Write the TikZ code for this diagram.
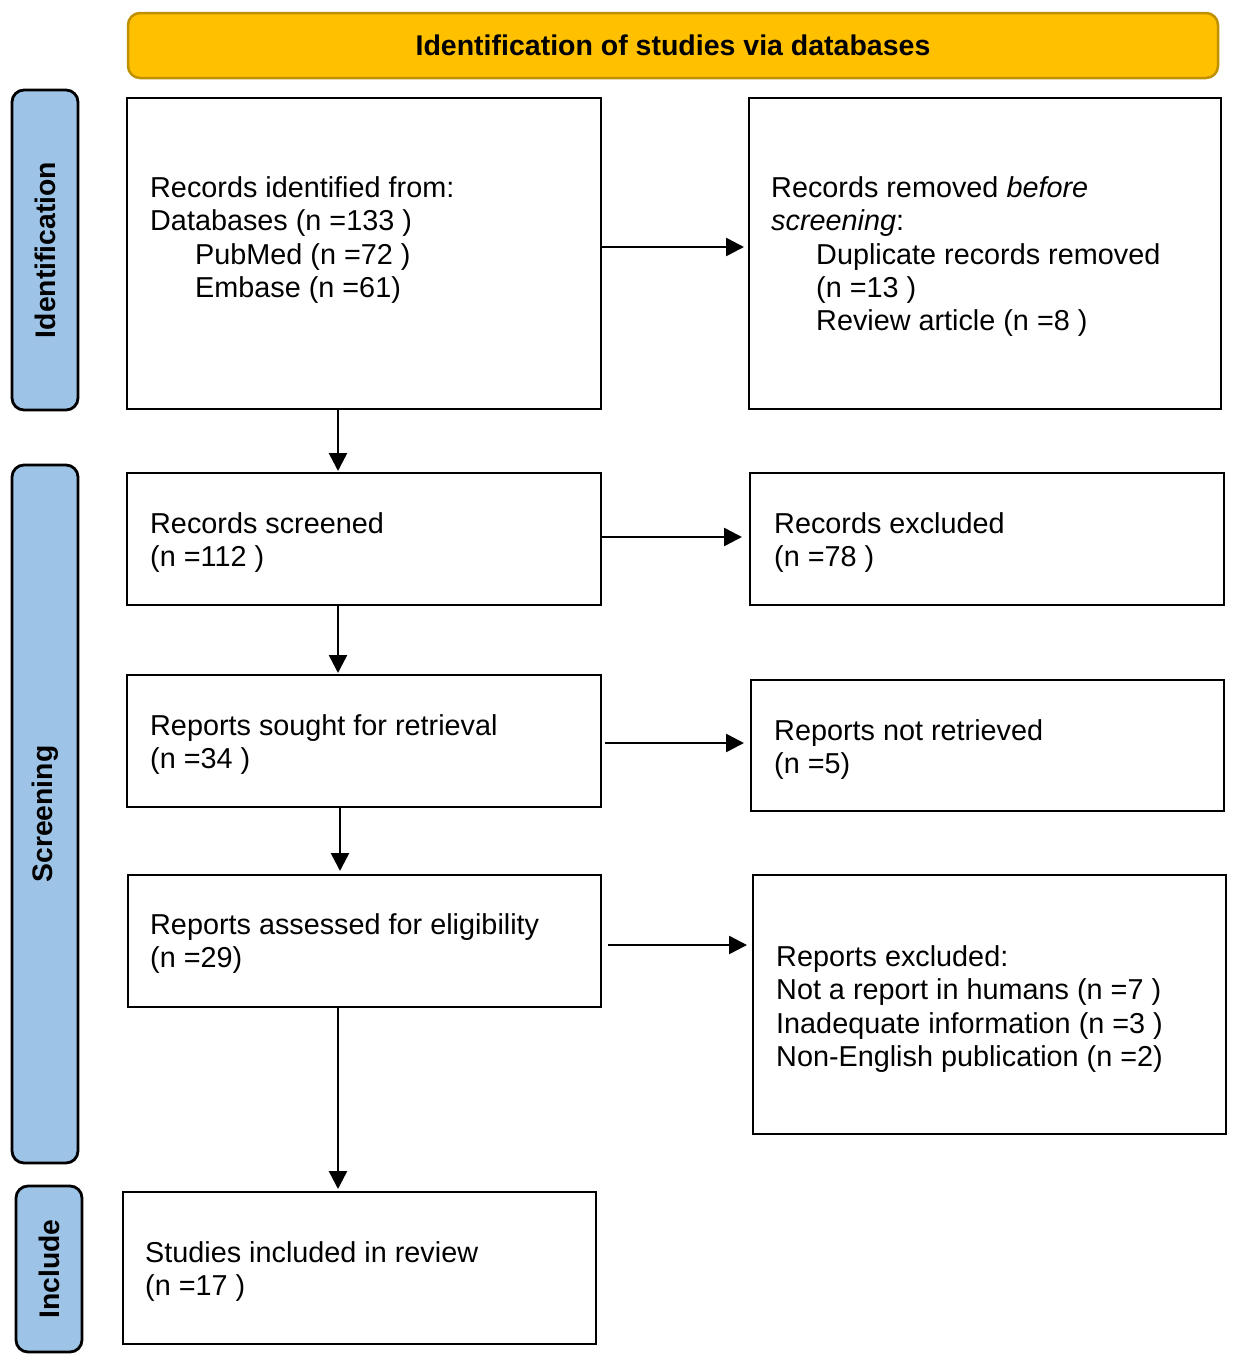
\documentclass[tikz,border=0pt]{standalone}
\usepackage{fontspec}
\setmainfont{Liberation Sans}
\usetikzlibrary{arrows.meta}
\definecolor{hdrfill}{HTML}{FFC000}
\definecolor{hdrdraw}{HTML}{BF9000}
\definecolor{sidefill}{HTML}{9DC3E6}
\tikzset{
  box/.style={draw=black, line width=2pt, fill=white, inner sep=0pt},
  txt/.style={inner sep=0pt, anchor=north west, align=left, font=\fontsize{28.8}{33.3}\selectfont},
  hdr/.style={draw=hdrdraw, fill=hdrfill, line width=2.5pt, rounded corners=12pt, font=\bfseries\fontsize{28.5}{33}\selectfont},
  side/.style={draw=black, fill=sidefill, line width=2.8pt, rounded corners=12pt},
  sidetxt/.style={rotate=90, font=\bfseries\fontsize{28.3}{33}\selectfont, inner sep=0pt},
  arr/.style={line width=2.5pt, -{Triangle[length=18pt,width=18pt]}}
}
\begin{document}
\begin{tikzpicture}[x=1pt,y=-1pt]
\useasboundingbox (0,0) rectangle (1240,1366);
% header
\node[hdr, minimum width=1090pt, minimum height=65pt] (hd) at (673,45.5) {Identification of studies via databases};
% side labels
\node[side, minimum width=66pt, minimum height=320pt] (s1) at (45,250) {};
\node[sidetxt] (s1t) at (s1.center) {Identification};
\node[side, minimum width=66pt, minimum height=698pt] (s2) at (45,814) {};
\node[sidetxt] (s2t) at (s2.center) {Screening};
\node[side, minimum width=66pt, minimum height=166pt] (s3) at (49,1269) {};
\node[sidetxt] (s3t) at (s3.center) {Include};
% boxes
\node[box, minimum width=474pt, minimum height=311pt] (b1) at (364,253.5) {};
\node[box, minimum width=472pt, minimum height=311pt] (b2) at (985,253.5) {};
\node[box, minimum width=474pt, minimum height=132pt] (b3) at (364,539) {};
\node[box, minimum width=474pt, minimum height=132pt] (b4) at (987,539) {};
\node[box, minimum width=474pt, minimum height=132pt] (b5) at (364,741) {};
\node[box, minimum width=473pt, minimum height=131pt] (b6) at (987.5,745.5) {};
\node[box, minimum width=473pt, minimum height=132pt] (b7) at (364.5,941) {};
\node[box, minimum width=473pt, minimum height=259pt] (b8) at (989.5,1004.5) {};
\node[box, minimum width=473pt, minimum height=152pt] (b9) at (359.5,1268) {};
% texts
\node[txt] (t1) at (150,176.5) {Records identified from:\\Databases (n =133 )\\\hspace*{45pt}PubMed (n =72 )\\\hspace*{45pt}Embase (n =61)};
\node[txt] (t2) at (771,176.5) {Records removed \textit{before}\\\textit{screening}:\\\hspace*{45pt}Duplicate records removed\\\hspace*{45pt}(n =13 )\\\hspace*{45pt}Review article (n =8 )};
\node[txt] (t3) at (150,512.5) {Records screened\\(n =112 )};
\node[txt] (t4) at (774,512.5) {Records excluded\\(n =78 )};
\node[txt] (t5) at (150,714.5) {Reports sought for retrieval\\(n =34 )};
\node[txt] (t6) at (774,719.5) {Reports not retrieved\\(n =5)};
\node[txt] (t7) at (150,913.5) {Reports assessed for eligibility\\(n =29)};
\node[txt] (t8) at (776,945.5) {Reports excluded:\\Not a report in humans (n =7 )\\Inadequate information (n =3 )\\Non-English publication (n =2)};
\node[txt] (t9) at (145,1241.5) {Studies included in review\\(n =17 )};
% horizontal arrows
\draw[arr, shorten >=4pt] ([yshift=6.5pt]b1.east) -- ([yshift=6.5pt]b1.east -| b2.west);
\draw[arr, shorten >=7pt] ([yshift=2pt]b3.east) -- ([yshift=2pt]b3.east -| b4.west);
\draw[arr, shorten <=3pt, shorten >=6pt] ([yshift=-2pt]b5.east) -- ([yshift=-2pt]b5.east -| b6.west);
\draw[arr, shorten <=6pt, shorten >=5pt] ([yshift=-4pt]b7.east) -- ([yshift=-4pt]b7.east -| b8.west);
% vertical arrows
\draw[arr, shorten >=1pt] ([xshift=-26pt]b1.south) -- ([xshift=-26pt]b1.south |- b3.north);
\draw[arr, shorten >=1pt] ([xshift=-26pt]b3.south) -- ([xshift=-26pt]b3.south |- b5.north);
\draw[arr, shorten >=3pt] ([xshift=-24pt]b5.south) -- ([xshift=-24pt]b5.south |- b7.north);
\draw[arr, shorten >=2pt] ([xshift=-26.5pt]b7.south) -- ([xshift=-26.5pt]b7.south |- b9.north);
\end{tikzpicture}
\end{document}
